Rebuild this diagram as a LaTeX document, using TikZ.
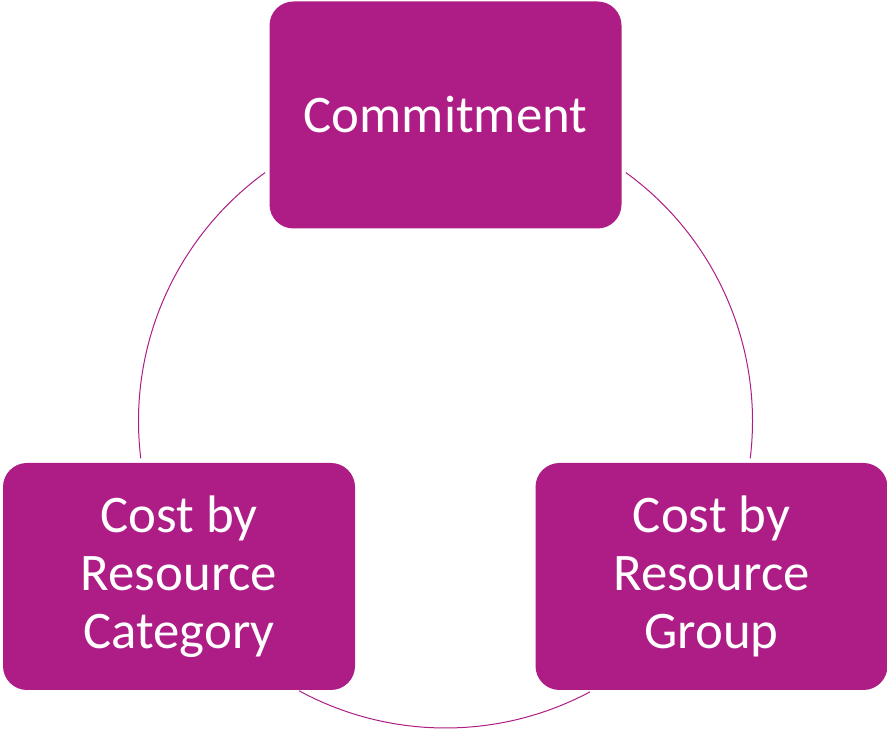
\documentclass[tikz,border=0pt]{standalone}
\usepackage{fontspec}
\setmainfont{Carlito}
\definecolor{plum}{HTML}{AE1D86}

\begin{document}
\begin{tikzpicture}[
	x=1pt,y=1pt,
	box/.style={fill=plum,rounded corners=24pt,minimum width=352pt,minimum height=227pt,
		inner sep=0pt,align=center,text=white,font=\fontsize{52.8}{58}\selectfont},
	ring/.style={draw=plum,line width=1pt}
	]
	\useasboundingbox (0,0) rectangle (887,731);
	\coordinate (mid) at (445.5,310);
	% arcs of the cycle
	\draw[ring] (mid) ++(126:307) arc[start angle=126,end angle=187,radius=307];
	\draw[ring] (mid) ++(54:307) arc[start angle=54,end angle=-7,radius=307];
	\draw[ring] (mid) ++(241.5:307) arc[start angle=241.5,end angle=298.1,radius=307];
	% boxes
	\node[box] (commit) at (445.5,616) {Commitment};
	\node[box] (cat) at (179,154.5) {Cost by\\Resource\\Category};
	\node[box] (grp) at (711.5,154.5) {Cost by\\Resource\\Group};
\end{tikzpicture}
\end{document}
